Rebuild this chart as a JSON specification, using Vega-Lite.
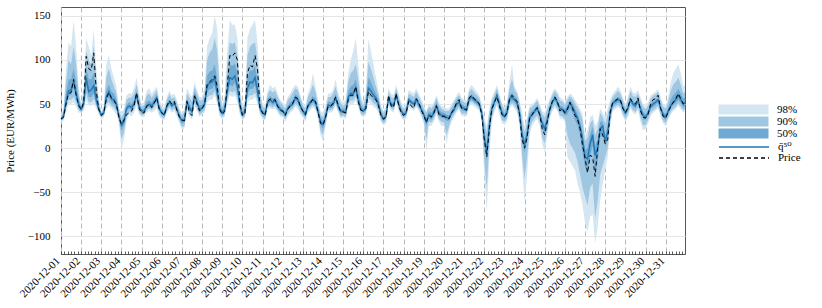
{
"$schema": "https://vega.github.io/schema/vega-lite/v6.json",
"width": 624, "height": 247,
"padding": {"left": 4, "top": 7, "right": 0, "bottom": 0},
"background": "white",
"config": {"font": "'Liberation Serif', 'DejaVu Serif', serif", "view": {"stroke": "#555", "strokeWidth": 1},
 "axis": {"labelFont": "'Liberation Serif', 'DejaVu Serif', serif", "titleFont": "'Liberation Serif', 'DejaVu Serif', serif", "labelFontSize": 11, "titleFontSize": 11, "labelColor": "black", "titleColor": "black", "titleFontWeight": "normal"},
 "legend": {"orient": "none", "title": null, "padding": 0, "symbolSize": 100, "symbolOffset": 20, "labelOffset": 28, "labelFont": "'Liberation Serif', 'DejaVu Serif', serif", "labelFontSize": 11, "labelColor": "black", "rowPadding": 0}},
"data": {"values": [
{"t":"2020-12-01T00:00","price":33,"q50":33,"q01":30,"q99":38,"q05":31,"q95":36,"q25":32,"q75":35},
{"t":"2020-12-01T03:00","price":35,"q50":36,"q01":31,"q99":45,"q05":33,"q95":42,"q25":34,"q75":39},
{"t":"2020-12-01T06:00","price":50,"q50":52,"q01":40,"q99":90,"q05":45,"q95":75,"q25":49,"q75":62},
{"t":"2020-12-01T09:00","price":62,"q50":65,"q01":50,"q99":120,"q05":55,"q95":100,"q25":60,"q75":78},
{"t":"2020-12-01T12:00","price":63,"q50":66,"q01":50,"q99":115,"q05":55,"q95":95,"q25":60,"q75":78},
{"t":"2020-12-01T15:00","price":78,"q50":76,"q01":52,"q99":145,"q05":58,"q95":115,"q25":67,"q75":90},
{"t":"2020-12-01T18:00","price":60,"q50":62,"q01":47,"q99":115,"q05":52,"q95":95,"q25":57,"q75":75},
{"t":"2020-12-01T21:00","price":48,"q50":50,"q01":40,"q99":70,"q05":43,"q95":62,"q25":46,"q75":55},
{"t":"2020-12-02T00:00","price":44,"q50":44,"q01":40,"q99":50,"q05":41,"q95":48,"q25":42,"q75":46},
{"t":"2020-12-02T03:00","price":52,"q50":50,"q01":42,"q99":70,"q05":45,"q95":62,"q25":47,"q75":55},
{"t":"2020-12-02T06:00","price":104,"q50":80,"q01":55,"q99":125,"q05":62,"q95":110,"q25":70,"q75":92},
{"t":"2020-12-02T09:00","price":90,"q50":64,"q01":48,"q99":115,"q05":52,"q95":100,"q25":58,"q75":78},
{"t":"2020-12-02T12:00","price":88,"q50":66,"q01":48,"q99":105,"q05":52,"q95":95,"q25":58,"q75":78},
{"t":"2020-12-02T15:00","price":108,"q50":71,"q01":50,"q99":135,"q05":56,"q95":115,"q25":62,"q75":85},
{"t":"2020-12-02T18:00","price":65,"q50":55,"q01":45,"q99":90,"q05":48,"q95":80,"q25":50,"q75":66},
{"t":"2020-12-02T21:00","price":44,"q50":44,"q01":38,"q99":55,"q05":40,"q95":52,"q25":42,"q75":48},
{"t":"2020-12-03T00:00","price":37,"q50":38,"q01":33,"q99":42,"q05":35,"q95":40,"q25":36,"q75":39},
{"t":"2020-12-03T03:00","price":40,"q50":40,"q01":35,"q99":48,"q05":37,"q95":45,"q25":38,"q75":42},
{"t":"2020-12-03T06:00","price":56,"q50":58,"q01":45,"q99":95,"q05":50,"q95":80,"q25":54,"q75":65},
{"t":"2020-12-03T09:00","price":63,"q50":64,"q01":48,"q99":105,"q05":52,"q95":90,"q25":58,"q75":72},
{"t":"2020-12-03T12:00","price":57,"q50":56,"q01":45,"q99":90,"q05":48,"q95":78,"q25":52,"q75":64},
{"t":"2020-12-03T15:00","price":54,"q50":55,"q01":42,"q99":80,"q05":46,"q95":70,"q25":50,"q75":62},
{"t":"2020-12-03T18:00","price":49,"q50":50,"q01":38,"q99":70,"q05":42,"q95":62,"q25":46,"q75":55},
{"t":"2020-12-03T21:00","price":35,"q50":36,"q01":28,"q99":45,"q05":31,"q95":42,"q25":33,"q75":39},
{"t":"2020-12-04T00:00","price":27,"q50":26,"q01":-2,"q99":40,"q05":10,"q95":35,"q25":20,"q75":30},
{"t":"2020-12-04T03:00","price":32,"q50":30,"q01":10,"q99":45,"q05":18,"q95":40,"q25":26,"q75":35},
{"t":"2020-12-04T06:00","price":38,"q50":45,"q01":30,"q99":60,"q05":35,"q95":55,"q25":41,"q75":49},
{"t":"2020-12-04T09:00","price":40,"q50":48,"q01":38,"q99":62,"q05":41,"q95":57,"q25":45,"q75":52},
{"t":"2020-12-04T12:00","price":42,"q50":46,"q01":36,"q99":62,"q05":40,"q95":57,"q25":43,"q75":50},
{"t":"2020-12-04T15:00","price":48,"q50":50,"q01":40,"q99":68,"q05":44,"q95":62,"q25":47,"q75":55},
{"t":"2020-12-04T18:00","price":63,"q50":60,"q01":48,"q99":80,"q05":53,"q95":72,"q25":57,"q75":65},
{"t":"2020-12-04T21:00","price":45,"q50":47,"q01":38,"q99":62,"q05":41,"q95":57,"q25":44,"q75":51},
{"t":"2020-12-05T00:00","price":40,"q50":42,"q01":35,"q99":50,"q05":37,"q95":47,"q25":40,"q75":44},
{"t":"2020-12-05T03:00","price":40,"q50":42,"q01":35,"q99":52,"q05":38,"q95":49,"q25":40,"q75":45},
{"t":"2020-12-05T06:00","price":47,"q50":48,"q01":40,"q99":65,"q05":43,"q95":60,"q25":45,"q75":53},
{"t":"2020-12-05T09:00","price":50,"q50":50,"q01":42,"q99":68,"q05":45,"q95":62,"q25":47,"q75":54},
{"t":"2020-12-05T12:00","price":46,"q50":48,"q01":40,"q99":62,"q05":43,"q95":57,"q25":45,"q75":52},
{"t":"2020-12-05T15:00","price":51,"q50":52,"q01":42,"q99":66,"q05":46,"q95":61,"q25":49,"q75":56},
{"t":"2020-12-05T18:00","price":57,"q50":57,"q01":45,"q99":70,"q05":50,"q95":66,"q25":54,"q75":61},
{"t":"2020-12-05T21:00","price":44,"q50":45,"q01":36,"q99":55,"q05":39,"q95":51,"q25":43,"q75":48},
{"t":"2020-12-06T00:00","price":40,"q50":40,"q01":33,"q99":48,"q05":35,"q95":45,"q25":38,"q75":42},
{"t":"2020-12-06T03:00","price":37,"q50":38,"q01":32,"q99":46,"q05":34,"q95":43,"q25":36,"q75":40},
{"t":"2020-12-06T06:00","price":48,"q50":47,"q01":40,"q99":58,"q05":42,"q95":55,"q25":45,"q75":50},
{"t":"2020-12-06T09:00","price":54,"q50":52,"q01":44,"q99":65,"q05":47,"q95":61,"q25":50,"q75":55},
{"t":"2020-12-06T12:00","price":50,"q50":48,"q01":40,"q99":60,"q05":43,"q95":56,"q25":46,"q75":51},
{"t":"2020-12-06T15:00","price":53,"q50":51,"q01":42,"q99":62,"q05":45,"q95":58,"q25":49,"q75":54},
{"t":"2020-12-06T18:00","price":43,"q50":44,"q01":36,"q99":55,"q05":39,"q95":51,"q25":42,"q75":47},
{"t":"2020-12-06T21:00","price":35,"q50":36,"q01":28,"q99":45,"q05":31,"q95":42,"q25":34,"q75":39},
{"t":"2020-12-07T00:00","price":32,"q50":31,"q01":21,"q99":40,"q05":24,"q95":37,"q25":28,"q75":34},
{"t":"2020-12-07T03:00","price":31,"q50":32,"q01":22,"q99":44,"q05":25,"q95":41,"q25":29,"q75":35},
{"t":"2020-12-07T06:00","price":53,"q50":52,"q01":42,"q99":68,"q05":45,"q95":62,"q25":49,"q75":56},
{"t":"2020-12-07T09:00","price":40,"q50":46,"q01":36,"q99":62,"q05":39,"q95":57,"q25":43,"q75":50},
{"t":"2020-12-07T12:00","price":37,"q50":41,"q01":32,"q99":58,"q05":35,"q95":53,"q25":38,"q75":45},
{"t":"2020-12-07T15:00","price":59,"q50":60,"q01":48,"q99":75,"q05":52,"q95":70,"q25":57,"q75":64},
{"t":"2020-12-07T18:00","price":50,"q50":52,"q01":42,"q99":66,"q05":45,"q95":62,"q25":49,"q75":56},
{"t":"2020-12-07T21:00","price":42,"q50":44,"q01":35,"q99":58,"q05":38,"q95":54,"q25":41,"q75":48},
{"t":"2020-12-08T00:00","price":45,"q50":45,"q01":38,"q99":58,"q05":40,"q95":54,"q25":43,"q75":49},
{"t":"2020-12-08T03:00","price":50,"q50":50,"q01":40,"q99":68,"q05":43,"q95":62,"q25":47,"q75":55},
{"t":"2020-12-08T06:00","price":72,"q50":70,"q01":52,"q99":115,"q05":57,"q95":100,"q25":63,"q75":82},
{"t":"2020-12-08T09:00","price":75,"q50":74,"q01":55,"q99":125,"q05":60,"q95":108,"q25":67,"q75":87},
{"t":"2020-12-08T12:00","price":78,"q50":75,"q01":55,"q99":130,"q05":60,"q95":112,"q25":67,"q75":88},
{"t":"2020-12-08T15:00","price":82,"q50":80,"q01":60,"q99":150,"q05":65,"q95":125,"q25":72,"q75":95},
{"t":"2020-12-08T18:00","price":70,"q50":62,"q01":50,"q99":135,"q05":54,"q95":110,"q25":57,"q75":78},
{"t":"2020-12-08T21:00","price":44,"q50":45,"q01":36,"q99":75,"q05":39,"q95":64,"q25":42,"q75":52},
{"t":"2020-12-09T00:00","price":38,"q50":40,"q01":33,"q99":50,"q05":35,"q95":46,"q25":37,"q75":43},
{"t":"2020-12-09T03:00","price":42,"q50":44,"q01":36,"q99":60,"q05":38,"q95":54,"q25":41,"q75":48},
{"t":"2020-12-09T06:00","price":70,"q50":65,"q01":50,"q99":110,"q05":55,"q95":95,"q25":60,"q75":75},
{"t":"2020-12-09T09:00","price":105,"q50":80,"q01":60,"q99":145,"q05":65,"q95":120,"q25":72,"q75":95},
{"t":"2020-12-09T12:00","price":104,"q50":78,"q01":58,"q99":140,"q05":63,"q95":118,"q25":70,"q75":93},
{"t":"2020-12-09T15:00","price":108,"q50":82,"q01":60,"q99":140,"q05":65,"q95":120,"q25":74,"q75":96},
{"t":"2020-12-09T18:00","price":100,"q50":70,"q01":52,"q99":125,"q05":57,"q95":105,"q25":63,"q75":85},
{"t":"2020-12-09T21:00","price":50,"q50":48,"q01":38,"q99":70,"q05":40,"q95":62,"q25":44,"q75":54},
{"t":"2020-12-10T00:00","price":37,"q50":38,"q01":32,"q99":48,"q05":34,"q95":45,"q25":36,"q75":41},
{"t":"2020-12-10T03:00","price":40,"q50":40,"q01":34,"q99":55,"q05":36,"q95":50,"q25":38,"q75":44},
{"t":"2020-12-10T06:00","price":85,"q50":68,"q01":52,"q99":125,"q05":57,"q95":105,"q25":62,"q75":80},
{"t":"2020-12-10T09:00","price":94,"q50":75,"q01":55,"q99":135,"q05":60,"q95":115,"q25":67,"q75":88},
{"t":"2020-12-10T12:00","price":92,"q50":74,"q01":55,"q99":140,"q05":60,"q95":118,"q25":67,"q75":88},
{"t":"2020-12-10T15:00","price":105,"q50":80,"q01":58,"q99":145,"q05":63,"q95":120,"q25":71,"q75":93},
{"t":"2020-12-10T18:00","price":90,"q50":65,"q01":50,"q99":120,"q05":54,"q95":100,"q25":58,"q75":77},
{"t":"2020-12-10T21:00","price":45,"q50":45,"q01":38,"q99":70,"q05":40,"q95":60,"q25":42,"q75":51},
{"t":"2020-12-11T00:00","price":40,"q50":40,"q01":33,"q99":50,"q05":35,"q95":47,"q25":38,"q75":43},
{"t":"2020-12-11T03:00","price":37,"q50":38,"q01":31,"q99":48,"q05":33,"q95":45,"q25":36,"q75":41},
{"t":"2020-12-11T06:00","price":53,"q50":52,"q01":44,"q99":65,"q05":47,"q95":61,"q25":49,"q75":56},
{"t":"2020-12-11T09:00","price":56,"q50":55,"q01":45,"q99":72,"q05":48,"q95":66,"q25":52,"q75":59},
{"t":"2020-12-11T12:00","price":54,"q50":52,"q01":44,"q99":68,"q05":46,"q95":63,"q25":49,"q75":56},
{"t":"2020-12-11T15:00","price":55,"q50":54,"q01":45,"q99":70,"q05":48,"q95":65,"q25":51,"q75":58},
{"t":"2020-12-11T18:00","price":47,"q50":48,"q01":40,"q99":62,"q05":43,"q95":58,"q25":45,"q75":52},
{"t":"2020-12-11T21:00","price":43,"q50":44,"q01":36,"q99":55,"q05":38,"q95":52,"q25":41,"q75":47},
{"t":"2020-12-12T00:00","price":42,"q50":42,"q01":35,"q99":52,"q05":37,"q95":49,"q25":40,"q75":45},
{"t":"2020-12-12T03:00","price":37,"q50":38,"q01":30,"q99":48,"q05":33,"q95":45,"q25":36,"q75":41},
{"t":"2020-12-12T06:00","price":44,"q50":45,"q01":36,"q99":58,"q05":39,"q95":55,"q25":43,"q75":48},
{"t":"2020-12-12T09:00","price":48,"q50":48,"q01":40,"q99":62,"q05":43,"q95":58,"q25":46,"q75":52},
{"t":"2020-12-12T12:00","price":51,"q50":50,"q01":42,"q99":68,"q05":45,"q95":63,"q25":48,"q75":54},
{"t":"2020-12-12T15:00","price":58,"q50":57,"q01":47,"q99":72,"q05":50,"q95":68,"q25":54,"q75":61},
{"t":"2020-12-12T18:00","price":56,"q50":55,"q01":45,"q99":70,"q05":48,"q95":66,"q25":52,"q75":59},
{"t":"2020-12-12T21:00","price":47,"q50":48,"q01":38,"q99":60,"q05":41,"q95":57,"q25":45,"q75":51},
{"t":"2020-12-13T00:00","price":42,"q50":42,"q01":35,"q99":52,"q05":37,"q95":48,"q25":40,"q75":45},
{"t":"2020-12-13T03:00","price":38,"q50":38,"q01":30,"q99":48,"q05":33,"q95":45,"q25":36,"q75":41},
{"t":"2020-12-13T06:00","price":48,"q50":48,"q01":40,"q99":62,"q05":43,"q95":58,"q25":45,"q75":51},
{"t":"2020-12-13T09:00","price":51,"q50":52,"q01":43,"q99":70,"q05":46,"q95":64,"q25":49,"q75":55},
{"t":"2020-12-13T12:00","price":56,"q50":55,"q01":46,"q99":85,"q05":49,"q95":72,"q25":52,"q75":59},
{"t":"2020-12-13T15:00","price":53,"q50":52,"q01":43,"q99":70,"q05":46,"q95":64,"q25":49,"q75":56},
{"t":"2020-12-13T18:00","price":41,"q50":42,"q01":33,"q99":55,"q05":36,"q95":51,"q25":39,"q75":45},
{"t":"2020-12-13T21:00","price":28,"q50":30,"q01":15,"q99":42,"q05":20,"q95":38,"q25":26,"q75":34},
{"t":"2020-12-14T00:00","price":26,"q50":27,"q01":8,"q99":40,"q05":15,"q95":35,"q25":22,"q75":31},
{"t":"2020-12-14T03:00","price":35,"q50":35,"q01":25,"q99":48,"q05":28,"q95":44,"q25":32,"q75":39},
{"t":"2020-12-14T06:00","price":47,"q50":49,"q01":40,"q99":62,"q05":43,"q95":58,"q25":46,"q75":53},
{"t":"2020-12-14T09:00","price":47,"q50":48,"q01":40,"q99":62,"q05":43,"q95":58,"q25":45,"q75":52},
{"t":"2020-12-14T12:00","price":51,"q50":50,"q01":42,"q99":66,"q05":45,"q95":62,"q25":47,"q75":54},
{"t":"2020-12-14T15:00","price":58,"q50":57,"q01":48,"q99":78,"q05":51,"q95":70,"q25":54,"q75":61},
{"t":"2020-12-14T18:00","price":49,"q50":48,"q01":40,"q99":63,"q05":43,"q95":58,"q25":45,"q75":52},
{"t":"2020-12-14T21:00","price":41,"q50":42,"q01":34,"q99":55,"q05":36,"q95":51,"q25":39,"q75":45},
{"t":"2020-12-15T00:00","price":41,"q50":42,"q01":35,"q99":52,"q05":37,"q95":48,"q25":40,"q75":45},
{"t":"2020-12-15T03:00","price":40,"q50":40,"q01":33,"q99":55,"q05":35,"q95":50,"q25":38,"q75":44},
{"t":"2020-12-15T06:00","price":55,"q50":58,"q01":46,"q99":85,"q05":50,"q95":75,"q25":54,"q75":65},
{"t":"2020-12-15T09:00","price":60,"q50":62,"q01":50,"q99":100,"q05":54,"q95":85,"q25":58,"q75":70},
{"t":"2020-12-15T12:00","price":60,"q50":62,"q01":50,"q99":110,"q05":54,"q95":88,"q25":58,"q75":72},
{"t":"2020-12-15T15:00","price":70,"q50":68,"q01":54,"q99":125,"q05":58,"q95":95,"q25":63,"q75":78},
{"t":"2020-12-15T18:00","price":52,"q50":55,"q01":46,"q99":95,"q05":49,"q95":78,"q25":52,"q75":63},
{"t":"2020-12-15T21:00","price":43,"q50":44,"q01":37,"q99":60,"q05":39,"q95":55,"q25":42,"q75":49},
{"t":"2020-12-16T00:00","price":42,"q50":42,"q01":35,"q99":52,"q05":37,"q95":48,"q25":40,"q75":45},
{"t":"2020-12-16T03:00","price":45,"q50":45,"q01":38,"q99":65,"q05":40,"q95":58,"q25":43,"q75":50},
{"t":"2020-12-16T06:00","price":64,"q50":68,"q01":52,"q99":124,"q05":57,"q95":98,"q25":62,"q75":80},
{"t":"2020-12-16T09:00","price":60,"q50":65,"q01":50,"q99":110,"q05":55,"q95":90,"q25":60,"q75":75},
{"t":"2020-12-16T12:00","price":57,"q50":60,"q01":47,"q99":95,"q05":51,"q95":80,"q25":55,"q75":68},
{"t":"2020-12-16T15:00","price":55,"q50":57,"q01":45,"q99":80,"q05":49,"q95":70,"q25":53,"q75":62},
{"t":"2020-12-16T18:00","price":48,"q50":50,"q01":40,"q99":65,"q05":43,"q95":60,"q25":47,"q75":55},
{"t":"2020-12-16T21:00","price":37,"q50":38,"q01":30,"q99":48,"q05":32,"q95":45,"q25":35,"q75":41},
{"t":"2020-12-17T00:00","price":33,"q50":33,"q01":26,"q99":42,"q05":28,"q95":40,"q25":31,"q75":36},
{"t":"2020-12-17T03:00","price":35,"q50":36,"q01":28,"q99":48,"q05":31,"q95":44,"q25":34,"q75":39},
{"t":"2020-12-17T06:00","price":60,"q50":56,"q01":48,"q99":68,"q05":51,"q95":64,"q25":53,"q75":59},
{"t":"2020-12-17T09:00","price":48,"q50":50,"q01":42,"q99":62,"q05":45,"q95":58,"q25":47,"q75":53},
{"t":"2020-12-17T12:00","price":46,"q50":48,"q01":40,"q99":60,"q05":43,"q95":56,"q25":46,"q75":51},
{"t":"2020-12-17T15:00","price":62,"q50":60,"q01":52,"q99":72,"q05":55,"q95":68,"q25":58,"q75":63},
{"t":"2020-12-17T18:00","price":49,"q50":50,"q01":42,"q99":62,"q05":45,"q95":58,"q25":48,"q75":53},
{"t":"2020-12-17T21:00","price":40,"q50":42,"q01":35,"q99":52,"q05":37,"q95":49,"q25":40,"q75":45},
{"t":"2020-12-18T00:00","price":37,"q50":38,"q01":32,"q99":46,"q05":34,"q95":44,"q25":36,"q75":41},
{"t":"2020-12-18T03:00","price":40,"q50":40,"q01":34,"q99":50,"q05":36,"q95":47,"q25":38,"q75":43},
{"t":"2020-12-18T06:00","price":53,"q50":55,"q01":46,"q99":66,"q05":49,"q95":62,"q25":52,"q75":58},
{"t":"2020-12-18T09:00","price":48,"q50":52,"q01":44,"q99":64,"q05":47,"q95":60,"q25":50,"q75":55},
{"t":"2020-12-18T12:00","price":45,"q50":50,"q01":42,"q99":62,"q05":45,"q95":58,"q25":48,"q75":53},
{"t":"2020-12-18T15:00","price":56,"q50":55,"q01":46,"q99":68,"q05":49,"q95":64,"q25":52,"q75":58},
{"t":"2020-12-18T18:00","price":52,"q50":50,"q01":42,"q99":62,"q05":45,"q95":58,"q25":47,"q75":53},
{"t":"2020-12-18T21:00","price":43,"q50":44,"q01":36,"q99":56,"q05":38,"q95":52,"q25":42,"q75":47},
{"t":"2020-12-19T00:00","price":37,"q50":38,"q01":28,"q99":48,"q05":31,"q95":45,"q25":35,"q75":41},
{"t":"2020-12-19T03:00","price":29,"q50":30,"q01":-5,"q99":42,"q05":10,"q95":40,"q25":25,"q75":34},
{"t":"2020-12-19T06:00","price":37,"q50":38,"q01":25,"q99":50,"q05":30,"q95":47,"q25":34,"q75":42},
{"t":"2020-12-19T09:00","price":35,"q50":36,"q01":25,"q99":48,"q05":29,"q95":45,"q25":32,"q75":40},
{"t":"2020-12-19T12:00","price":40,"q50":40,"q01":30,"q99":52,"q05":33,"q95":49,"q25":37,"q75":44},
{"t":"2020-12-19T15:00","price":48,"q50":48,"q01":38,"q99":60,"q05":41,"q95":57,"q25":45,"q75":52},
{"t":"2020-12-19T18:00","price":38,"q50":40,"q01":30,"q99":52,"q05":33,"q95":49,"q25":37,"q75":44},
{"t":"2020-12-19T21:00","price":36,"q50":37,"q01":25,"q99":48,"q05":30,"q95":45,"q25":34,"q75":41},
{"t":"2020-12-20T00:00","price":36,"q50":37,"q01":25,"q99":46,"q05":29,"q95":43,"q25":34,"q75":40},
{"t":"2020-12-20T03:00","price":34,"q50":35,"q01":5,"q99":45,"q05":15,"q95":42,"q25":31,"q75":38},
{"t":"2020-12-20T06:00","price":33,"q50":34,"q01":20,"q99":45,"q05":25,"q95":42,"q25":31,"q75":37},
{"t":"2020-12-20T09:00","price":40,"q50":40,"q01":30,"q99":50,"q05":33,"q95":47,"q25":37,"q75":43},
{"t":"2020-12-20T12:00","price":44,"q50":44,"q01":35,"q99":55,"q05":38,"q95":52,"q25":41,"q75":47},
{"t":"2020-12-20T15:00","price":52,"q50":50,"q01":40,"q99":60,"q05":43,"q95":57,"q25":47,"q75":53},
{"t":"2020-12-20T18:00","price":55,"q50":52,"q01":44,"q99":64,"q05":46,"q95":60,"q25":49,"q75":56},
{"t":"2020-12-20T21:00","price":45,"q50":46,"q01":36,"q99":57,"q05":39,"q95":54,"q25":43,"q75":50},
{"t":"2020-12-21T00:00","price":44,"q50":45,"q01":37,"q99":55,"q05":39,"q95":52,"q25":42,"q75":48},
{"t":"2020-12-21T03:00","price":43,"q50":44,"q01":36,"q99":54,"q05":38,"q95":51,"q25":41,"q75":47},
{"t":"2020-12-21T06:00","price":57,"q50":56,"q01":47,"q99":68,"q05":50,"q95":64,"q25":53,"q75":59},
{"t":"2020-12-21T09:00","price":60,"q50":58,"q01":50,"q99":72,"q05":53,"q95":67,"q25":55,"q75":61},
{"t":"2020-12-21T12:00","price":56,"q50":55,"q01":47,"q99":68,"q05":50,"q95":63,"q25":52,"q75":58},
{"t":"2020-12-21T15:00","price":54,"q50":53,"q01":45,"q99":64,"q05":48,"q95":60,"q25":50,"q75":56},
{"t":"2020-12-21T18:00","price":50,"q50":50,"q01":42,"q99":60,"q05":45,"q95":57,"q25":47,"q75":53},
{"t":"2020-12-21T21:00","price":38,"q50":40,"q01":30,"q99":50,"q05":33,"q95":47,"q25":37,"q75":43},
{"t":"2020-12-22T00:00","price":10,"q50":12,"q01":-30,"q99":35,"q05":-15,"q95":30,"q25":5,"q75":20},
{"t":"2020-12-22T03:00","price":-10,"q50":-5,"q01":-72,"q99":25,"q05":-45,"q95":18,"q25":-15,"q75":5},
{"t":"2020-12-22T06:00","price":22,"q50":25,"q01":-10,"q99":45,"q05":5,"q95":40,"q25":18,"q75":32},
{"t":"2020-12-22T09:00","price":44,"q50":45,"q01":30,"q99":58,"q05":35,"q95":54,"q25":41,"q75":49},
{"t":"2020-12-22T12:00","price":52,"q50":52,"q01":40,"q99":64,"q05":44,"q95":60,"q25":49,"q75":55},
{"t":"2020-12-22T15:00","price":58,"q50":60,"q01":48,"q99":72,"q05":51,"q95":68,"q25":57,"q75":63},
{"t":"2020-12-22T18:00","price":48,"q50":50,"q01":38,"q99":62,"q05":42,"q95":58,"q25":47,"q75":54},
{"t":"2020-12-22T21:00","price":38,"q50":40,"q01":28,"q99":52,"q05":32,"q95":49,"q25":37,"q75":44},
{"t":"2020-12-23T00:00","price":35,"q50":36,"q01":27,"q99":46,"q05":30,"q95":43,"q25":33,"q75":39},
{"t":"2020-12-23T03:00","price":40,"q50":40,"q01":30,"q99":52,"q05":33,"q95":49,"q25":37,"q75":44},
{"t":"2020-12-23T06:00","price":55,"q50":56,"q01":45,"q99":75,"q05":48,"q95":68,"q25":52,"q75":60},
{"t":"2020-12-23T09:00","price":60,"q50":58,"q01":48,"q99":95,"q05":51,"q95":78,"q25":54,"q75":63},
{"t":"2020-12-23T12:00","price":56,"q50":55,"q01":45,"q99":70,"q05":48,"q95":66,"q25":52,"q75":59},
{"t":"2020-12-23T15:00","price":53,"q50":52,"q01":40,"q99":65,"q05":44,"q95":62,"q25":48,"q75":56},
{"t":"2020-12-23T18:00","price":38,"q50":40,"q01":25,"q99":55,"q05":30,"q95":51,"q25":36,"q75":44},
{"t":"2020-12-23T21:00","price":10,"q50":15,"q01":-20,"q99":40,"q05":-8,"q95":32,"q25":8,"q75":22},
{"t":"2020-12-24T00:00","price":0,"q50":4,"q01":-62,"q99":25,"q05":-35,"q95":18,"q25":-5,"q75":10},
{"t":"2020-12-24T03:00","price":12,"q50":15,"q01":-30,"q99":35,"q05":-10,"q95":30,"q25":8,"q75":22},
{"t":"2020-12-24T06:00","price":34,"q50":35,"q01":15,"q99":48,"q05":22,"q95":45,"q25":31,"q75":39},
{"t":"2020-12-24T09:00","price":38,"q50":38,"q01":26,"q99":50,"q05":30,"q95":47,"q25":35,"q75":42},
{"t":"2020-12-24T12:00","price":43,"q50":42,"q01":30,"q99":52,"q05":34,"q95":50,"q25":39,"q75":45},
{"t":"2020-12-24T15:00","price":46,"q50":45,"q01":33,"q99":57,"q05":37,"q95":54,"q25":42,"q75":49},
{"t":"2020-12-24T18:00","price":38,"q50":38,"q01":25,"q99":50,"q05":30,"q95":47,"q25":35,"q75":42},
{"t":"2020-12-24T21:00","price":22,"q50":28,"q01":5,"q99":42,"q05":12,"q95":38,"q25":22,"q75":32},
{"t":"2020-12-25T00:00","price":15,"q50":22,"q01":-5,"q99":40,"q05":5,"q95":35,"q25":16,"q75":27},
{"t":"2020-12-25T03:00","price":30,"q50":32,"q01":15,"q99":48,"q05":20,"q95":44,"q25":28,"q75":37},
{"t":"2020-12-25T06:00","price":44,"q50":44,"q01":33,"q99":56,"q05":37,"q95":53,"q25":41,"q75":48},
{"t":"2020-12-25T09:00","price":53,"q50":52,"q01":42,"q99":63,"q05":45,"q95":60,"q25":49,"q75":55},
{"t":"2020-12-25T12:00","price":58,"q50":57,"q01":46,"q99":68,"q05":49,"q95":65,"q25":54,"q75":60},
{"t":"2020-12-25T15:00","price":53,"q50":52,"q01":42,"q99":64,"q05":45,"q95":61,"q25":49,"q75":55},
{"t":"2020-12-25T18:00","price":42,"q50":45,"q01":34,"q99":58,"q05":37,"q95":54,"q25":42,"q75":48},
{"t":"2020-12-25T21:00","price":45,"q50":44,"q01":33,"q99":56,"q05":36,"q95":53,"q25":41,"q75":47},
{"t":"2020-12-26T00:00","price":40,"q50":40,"q01":30,"q99":52,"q05":33,"q95":49,"q25":37,"q75":44},
{"t":"2020-12-26T03:00","price":44,"q50":45,"q01":-10,"q99":58,"q05":15,"q95":55,"q25":38,"q75":49},
{"t":"2020-12-26T06:00","price":52,"q50":51,"q01":-15,"q99":62,"q05":5,"q95":59,"q25":45,"q75":55},
{"t":"2020-12-26T09:00","price":45,"q50":47,"q01":-20,"q99":60,"q05":0,"q95":56,"q25":40,"q75":51},
{"t":"2020-12-26T12:00","price":37,"q50":40,"q01":-25,"q99":55,"q05":-5,"q95":51,"q25":32,"q75":45},
{"t":"2020-12-26T15:00","price":33,"q50":34,"q01":-40,"q99":50,"q05":-15,"q95":46,"q25":26,"q75":39},
{"t":"2020-12-26T18:00","price":22,"q50":25,"q01":-50,"q99":45,"q05":-30,"q95":40,"q25":15,"q75":30},
{"t":"2020-12-26T21:00","price":3,"q50":10,"q01":-65,"q99":38,"q05":-45,"q95":32,"q25":-5,"q75":18},
{"t":"2020-12-27T00:00","price":-12,"q50":-10,"q01":-85,"q99":15,"q05":-55,"q95":8,"q25":-22,"q75":-2},
{"t":"2020-12-27T03:00","price":-28,"q50":-12,"q01":-95,"q99":20,"q05":-65,"q95":12,"q25":-28,"q75":0},
{"t":"2020-12-27T06:00","price":-8,"q50":5,"q01":-78,"q99":35,"q05":-45,"q95":28,"q25":-10,"q75":15},
{"t":"2020-12-27T09:00","price":-10,"q50":15,"q01":-75,"q99":38,"q05":-40,"q95":32,"q25":3,"q75":24},
{"t":"2020-12-27T12:00","price":-32,"q50":-8,"q01":-108,"q99":25,"q05":-80,"q95":15,"q25":-30,"q75":3},
{"t":"2020-12-27T15:00","price":0,"q50":0,"q01":-90,"q99":30,"q05":-60,"q95":22,"q25":-15,"q75":10},
{"t":"2020-12-27T18:00","price":22,"q50":22,"q01":-60,"q99":45,"q05":-30,"q95":40,"q25":12,"q75":30},
{"t":"2020-12-27T21:00","price":15,"q50":25,"q01":-40,"q99":40,"q05":-20,"q95":35,"q25":15,"q75":30},
{"t":"2020-12-28T00:00","price":5,"q50":8,"q01":-25,"q99":35,"q05":-10,"q95":28,"q25":2,"q75":15},
{"t":"2020-12-28T03:00","price":10,"q50":18,"q01":-10,"q99":45,"q05":0,"q95":38,"q25":10,"q75":26},
{"t":"2020-12-28T06:00","price":42,"q50":40,"q01":25,"q99":55,"q05":30,"q95":50,"q25":36,"q75":45},
{"t":"2020-12-28T09:00","price":52,"q50":51,"q01":42,"q99":62,"q05":45,"q95":58,"q25":48,"q75":54},
{"t":"2020-12-28T12:00","price":54,"q50":53,"q01":44,"q99":65,"q05":47,"q95":61,"q25":50,"q75":56},
{"t":"2020-12-28T15:00","price":56,"q50":55,"q01":46,"q99":70,"q05":49,"q95":65,"q25":52,"q75":58},
{"t":"2020-12-28T18:00","price":55,"q50":54,"q01":44,"q99":66,"q05":47,"q95":62,"q25":51,"q75":57},
{"t":"2020-12-28T21:00","price":45,"q50":46,"q01":36,"q99":58,"q05":39,"q95":54,"q25":43,"q75":49},
{"t":"2020-12-29T00:00","price":40,"q50":40,"q01":30,"q99":50,"q05":33,"q95":47,"q25":37,"q75":43},
{"t":"2020-12-29T03:00","price":46,"q50":45,"q01":35,"q99":58,"q05":38,"q95":54,"q25":42,"q75":48},
{"t":"2020-12-29T06:00","price":56,"q50":55,"q01":45,"q99":70,"q05":48,"q95":65,"q25":52,"q75":58},
{"t":"2020-12-29T09:00","price":52,"q50":50,"q01":40,"q99":63,"q05":43,"q95":59,"q25":47,"q75":53},
{"t":"2020-12-29T12:00","price":50,"q50":48,"q01":38,"q99":62,"q05":41,"q95":58,"q25":45,"q75":51},
{"t":"2020-12-29T15:00","price":57,"q50":54,"q01":43,"q99":66,"q05":46,"q95":62,"q25":51,"q75":57},
{"t":"2020-12-29T18:00","price":42,"q50":45,"q01":30,"q99":58,"q05":35,"q95":54,"q25":42,"q75":48},
{"t":"2020-12-29T21:00","price":35,"q50":37,"q01":20,"q99":50,"q05":26,"q95":47,"q25":33,"q75":41},
{"t":"2020-12-30T00:00","price":34,"q50":35,"q01":22,"q99":48,"q05":26,"q95":44,"q25":32,"q75":38},
{"t":"2020-12-30T03:00","price":38,"q50":40,"q01":28,"q99":52,"q05":32,"q95":48,"q25":37,"q75":43},
{"t":"2020-12-30T06:00","price":50,"q50":47,"q01":36,"q99":60,"q05":40,"q95":56,"q25":44,"q75":50},
{"t":"2020-12-30T09:00","price":55,"q50":50,"q01":40,"q99":62,"q05":43,"q95":59,"q25":47,"q75":53},
{"t":"2020-12-30T12:00","price":56,"q50":52,"q01":42,"q99":64,"q05":45,"q95":61,"q25":49,"q75":55},
{"t":"2020-12-30T15:00","price":60,"q50":55,"q01":45,"q99":67,"q05":48,"q95":64,"q25":52,"q75":58},
{"t":"2020-12-30T18:00","price":45,"q50":45,"q01":35,"q99":58,"q05":38,"q95":54,"q25":42,"q75":48},
{"t":"2020-12-30T21:00","price":36,"q50":38,"q01":28,"q99":50,"q05":31,"q95":47,"q25":35,"q75":41},
{"t":"2020-12-31T00:00","price":34,"q50":35,"q01":25,"q99":48,"q05":28,"q95":45,"q25":32,"q75":39},
{"t":"2020-12-31T03:00","price":41,"q50":42,"q01":32,"q99":58,"q05":35,"q95":52,"q25":39,"q75":46},
{"t":"2020-12-31T06:00","price":47,"q50":48,"q01":38,"q99":75,"q05":41,"q95":65,"q25":45,"q75":55},
{"t":"2020-12-31T09:00","price":52,"q50":52,"q01":42,"q99":85,"q05":45,"q95":72,"q25":49,"q75":60},
{"t":"2020-12-31T12:00","price":56,"q50":55,"q01":44,"q99":90,"q05":47,"q95":75,"q25":51,"q75":63},
{"t":"2020-12-31T15:00","price":62,"q50":60,"q01":48,"q99":95,"q05":51,"q95":80,"q25":55,"q75":67},
{"t":"2020-12-31T18:00","price":56,"q50":55,"q01":44,"q99":85,"q05":47,"q95":72,"q25":51,"q75":62},
{"t":"2020-12-31T21:00","price":50,"q50":50,"q01":40,"q99":70,"q05":43,"q95":62,"q25":46,"q75":56},
{"t":"2020-12-31T23:00","price":53,"q50":52,"q01":42,"q99":72,"q05":45,"q95":64,"q25":48,"q75":58}
]},
"encoding": {
 "x": {"field": "t", "type": "temporal",
  "scale": {"domain": [{"year": 2020, "month": 12, "date": 1, "hours": 0}, {"year": 2020, "month": 12, "date": 31, "hours": 23}]},
  "axis": {"title": null, "tickCount": {"interval": "hours", "step": 4},
   "labelExpr": "hours(datum.value) == 0 ? timeFormat(datum.value, '%Y-%m-%d') : ''",
   "labelAngle": -45, "labelAlign": "right", "labelBaseline": "middle", "labelPadding": 8, "labelOffset": -3,
   "labelOverlap": false, "labelBound": false, "labelFlush": false,
   "tickSize": -3, "tickColor": "#333", "tickWidth": 0.8, "domain": false,
   "grid": true, "gridDash": [5, 3], "gridColor": "#b8b8b8", "gridWidth": 1,
   "gridOpacity": {"condition": {"test": "hours(datum.value) == 0", "value": 1}, "value": 0}}}
},
"layer": [
 {"mark": {"type": "area"},
  "encoding": {
   "y": {"field": "q01", "type": "quantitative", "scale": {"domain": [-120, 160], "nice": false, "zero": false},
    "axis": {"title": "Price (EUR/MWh)", "values": [-100, -50, 0, 50, 100, 150], "grid": true, "gridColor": "#e6e6e6", "domain": false, "ticks": false, "labelPadding": 11, "titlePadding": 12}},
   "y2": {"field": "q99"},
   "fill": {"datum": "98%", "type": "nominal",
    "scale": {"domain": ["98%", "90%", "50%"], "range": ["#d4e6f1", "#9fc7e1", "#70a9d1"]},
    "legend": {"legendX": 657, "legendY": 97, "symbolType": "M-5,-1H5V1H-5Z", "symbolStrokeWidth": 0}}
  }},
 {"mark": {"type": "area"},
  "encoding": {"y": {"field": "q05", "type": "quantitative"}, "y2": {"field": "q95"}, "fill": {"datum": "90%", "type": "nominal"}}},
 {"mark": {"type": "area"},
  "encoding": {"y": {"field": "q25", "type": "quantitative"}, "y2": {"field": "q75"}, "fill": {"datum": "50%", "type": "nominal"}}},
 {"mark": {"type": "line", "strokeWidth": 1.4},
  "encoding": {"y": {"field": "q50", "type": "quantitative"},
   "stroke": {"datum": "q̄⁵⁰", "type": "nominal",
    "scale": {"domain": ["q̄⁵⁰", "Price"], "range": ["#1f77b4", "#000000"]},
    "legend": {"legendX": 657, "legendY": 134, "symbolType": "M-5,0H5", "symbolStrokeWidth": 1.4}},
   "strokeDash": {"datum": "q̄⁵⁰", "type": "nominal",
    "scale": {"domain": ["q̄⁵⁰", "Price"], "range": [[1, 0], [4, 3]]},
    "legend": {"legendX": 657, "legendY": 134, "symbolType": "M-5,0H5", "symbolStrokeWidth": 1.4}}}},
 {"mark": {"type": "line", "strokeWidth": 1},
  "encoding": {"y": {"field": "price", "type": "quantitative"},
   "stroke": {"datum": "Price", "type": "nominal"},
   "strokeDash": {"datum": "Price", "type": "nominal"}}}
]
}
